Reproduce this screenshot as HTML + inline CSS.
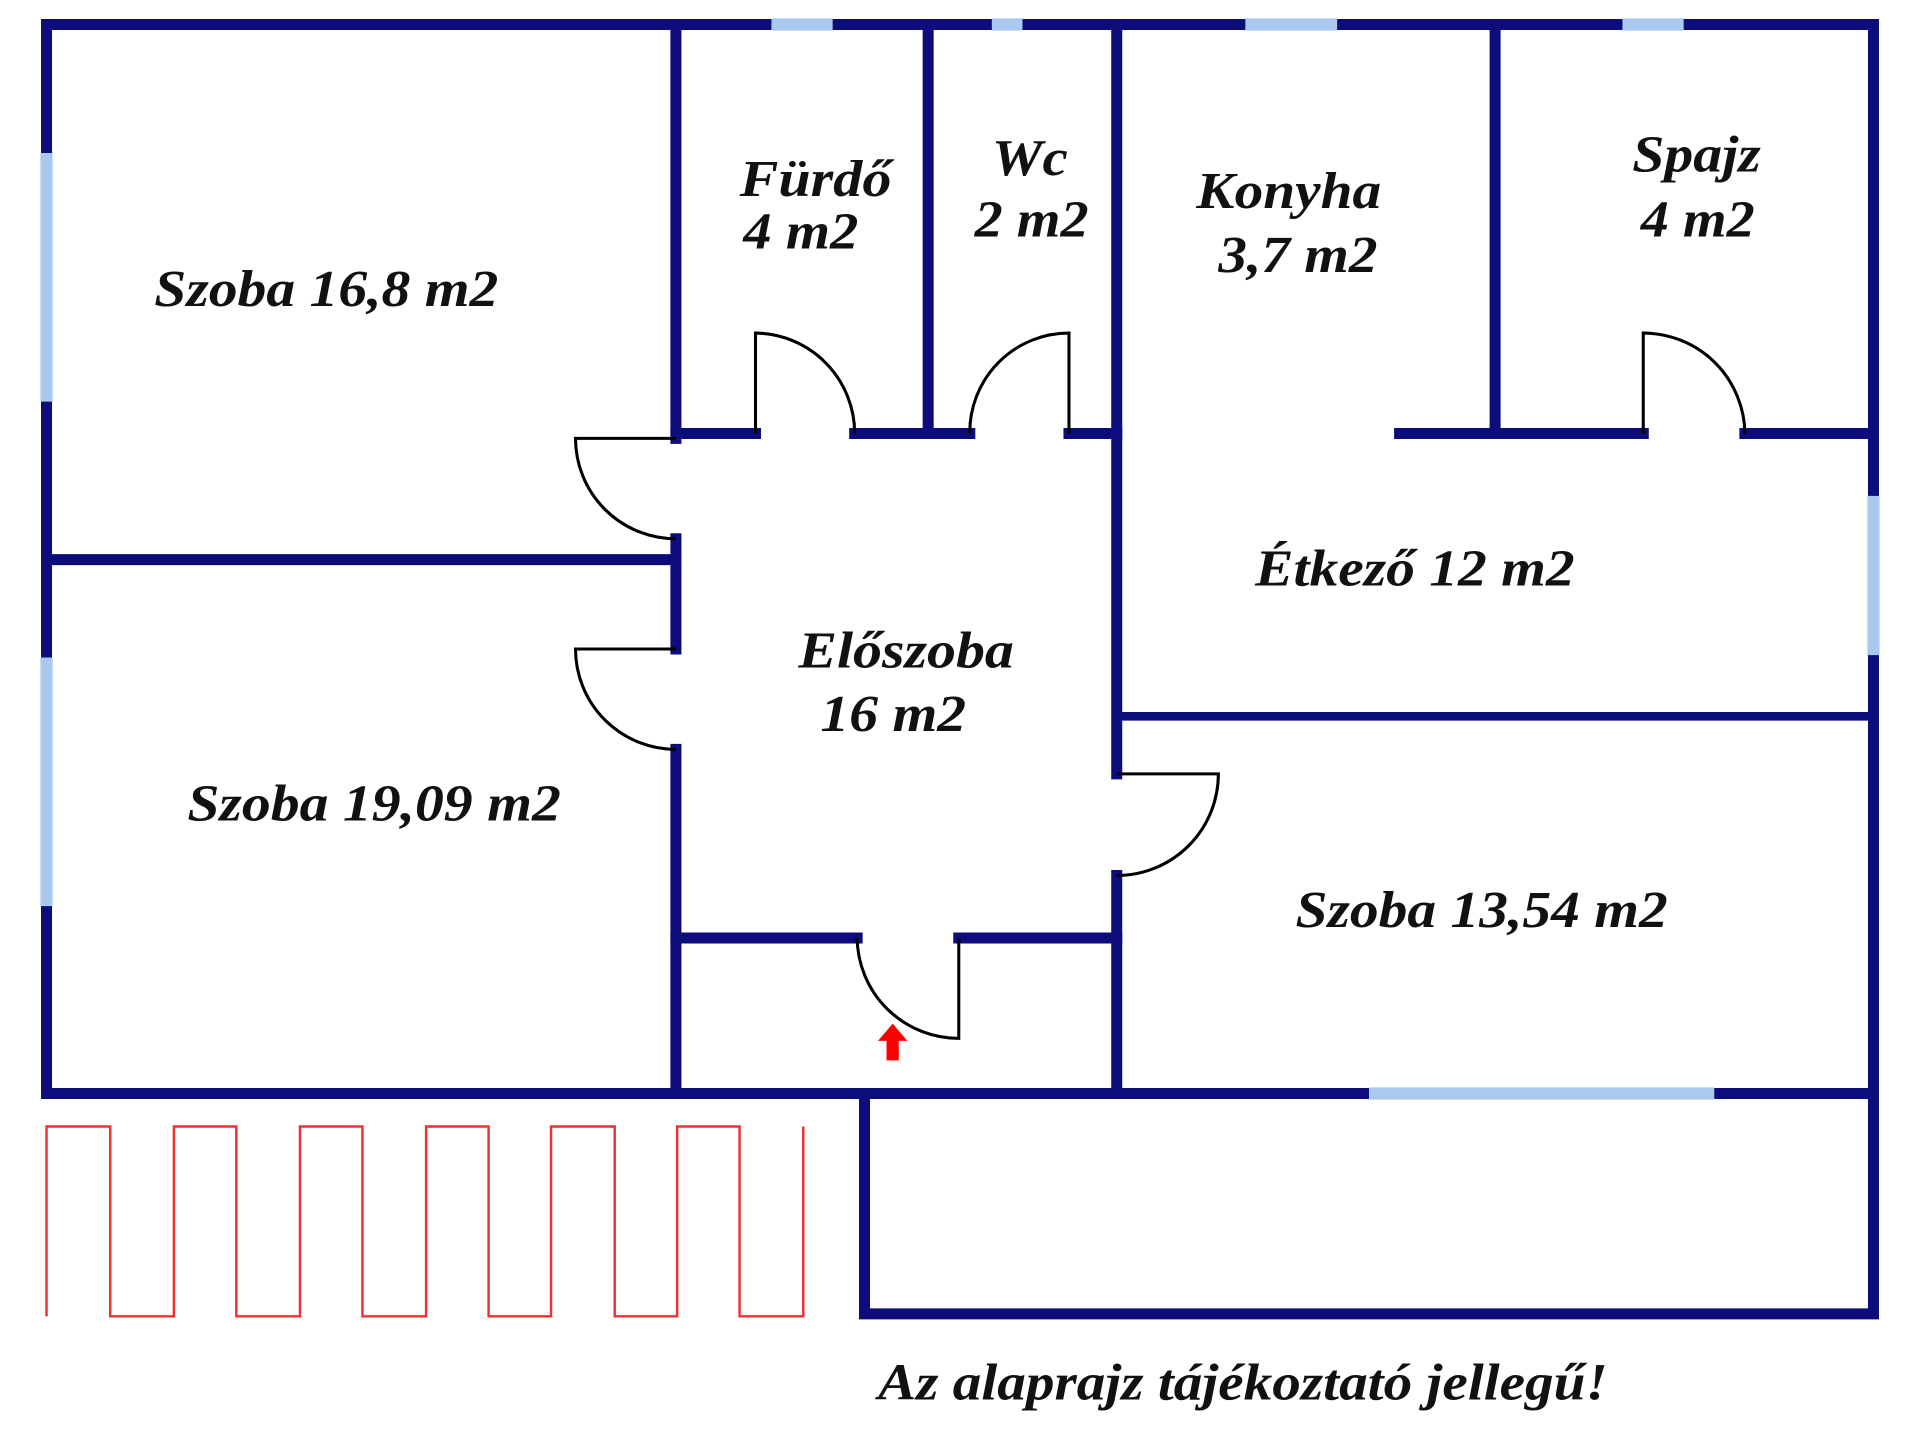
<!DOCTYPE html>
<html><head><meta charset="utf-8"><style>html,body{margin:0;padding:0;background:#fff}svg{display:block}</style></head>
<body>
<svg width="1920" height="1440" viewBox="0 0 1568 1176" preserveAspectRatio="none" xmlns="http://www.w3.org/2000/svg">
<rect width="1568" height="1176" fill="#fff"/>
<g stroke="#0c0c7a" stroke-width="9" stroke-linecap="square" fill="none">
<path d="M38 20H1530V893H38Z"/>
<path d="M552 20V358M552 440V530M552 612V893"/>
<path d="M38 457H552"/>
<path d="M552 354H617M698 354H792M873 354H912"/>
<path d="M758 20V354"/>
<path d="M912 20V632M912 715V893"/>
<path d="M1143 354H1342M1425 354H1530"/>
<path d="M1221 20V354"/>
<path d="M552 766H700M783 766H912"/>
<path d="M706 893V1073H1530V893"/>
</g>
<path d="M912 585H1530" stroke="#0c0c7a" stroke-width="7"/>
<g stroke="#a9c9ee" stroke-width="10">
<path d="M630 20H680M810 20H835M1017 20H1092M1325 20H1375M1118 893H1400"/>
<path d="M38 125V328M38 537V740M1530 405V535"/>
</g>
<g stroke="#000" stroke-width="2.5" fill="none">
<path d="M617 354V272A82 82 0 0 1 698 354"/>
<path d="M873 354V272A81 81 0 0 0 792 354"/>
<path d="M1342 354V272A83 83 0 0 1 1425 354"/>
<path d="M552 358H470A82 82 0 0 0 552 440"/>
<path d="M552 530H470A82 82 0 0 0 552 612"/>
<path d="M912 632H995A83 83 0 0 1 912 715"/>
<path d="M783 766V848A83 83 0 0 1 700 766"/>
</g>
<path d="M729 836L741 850H734V866H724V850H717Z" fill="#f00"/>
<path d="M38 1075V920H90V1075H142V920H193V1075H245V920H296V1075H348V920H399V1075H450V920H502V1075H553V920H604V1075H656V920" stroke="#f03030" stroke-width="2" fill="none"/>
<g font-family="Liberation Serif, serif" font-weight="bold" font-style="italic" font-size="42" fill="#111">
<text x="126" y="250" textLength="281" lengthAdjust="spacingAndGlyphs">Szoba 16,8 m2</text>
<text x="604" y="160" textLength="124" lengthAdjust="spacingAndGlyphs">Fürdő</text>
<text x="607" y="203" textLength="94" lengthAdjust="spacingAndGlyphs">4 m2</text>
<text x="810" y="143" textLength="62" lengthAdjust="spacingAndGlyphs">Wc</text>
<text x="796" y="193" textLength="93" lengthAdjust="spacingAndGlyphs">2 m2</text>
<text x="977" y="170" textLength="151" lengthAdjust="spacingAndGlyphs">Konyha</text>
<text x="995" y="222" textLength="130" lengthAdjust="spacingAndGlyphs">3,7 m2</text>
<text x="1333" y="140" textLength="105" lengthAdjust="spacingAndGlyphs">Spajz</text>
<text x="1340" y="193" textLength="93" lengthAdjust="spacingAndGlyphs">4 m2</text>
<text x="1025" y="478" textLength="261" lengthAdjust="spacingAndGlyphs">Étkező 12 m2</text>
<text x="652" y="545" textLength="176" lengthAdjust="spacingAndGlyphs">Előszoba</text>
<text x="670" y="597" textLength="119" lengthAdjust="spacingAndGlyphs">16 m2</text>
<text x="153" y="670" textLength="305" lengthAdjust="spacingAndGlyphs">Szoba 19,09 m2</text>
<text x="1058" y="757" textLength="304" lengthAdjust="spacingAndGlyphs">Szoba 13,54 m2</text>
<text x="717" y="1143" textLength="596" lengthAdjust="spacingAndGlyphs">Az alaprajz tájékoztató jellegű!</text>
</g>
</svg>
</body></html>
